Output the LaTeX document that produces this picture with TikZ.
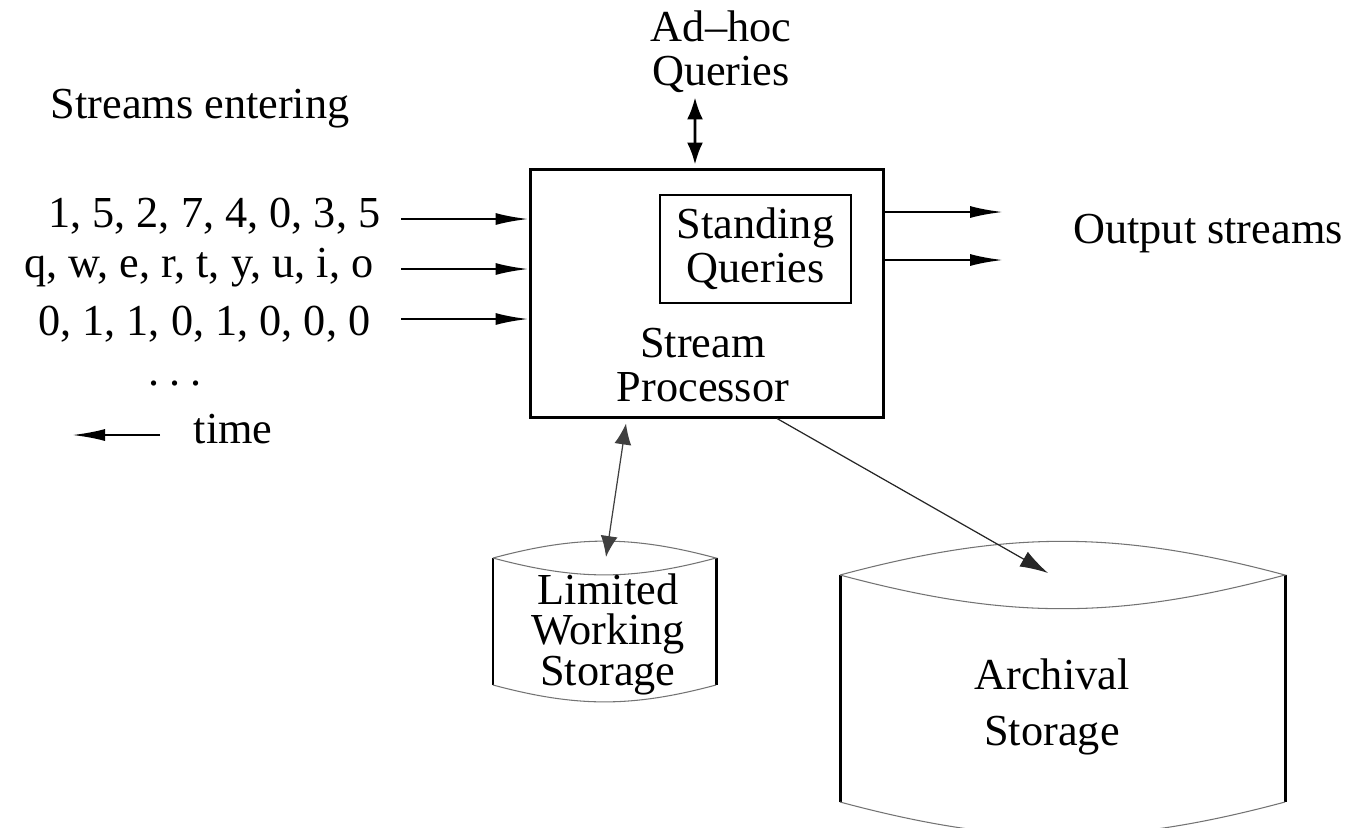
\documentclass[tikz,border=0pt]{standalone}
\usepackage{fontspec}
\setmainfont{Liberation Serif}
\usetikzlibrary{arrows.meta}

\tikzset{
  lbl/.style   = {inner sep=0pt, font=\fontsize{12.6}{12.4}\selectfont, align=center},
  box/.style   = {draw, line width=0.85pt, inner sep=0pt},
  flow/.style  = {line width=0.7pt, -{Latex[length=0.33cm,width=0.12cm]}},
  query/.style = {line width=0.75pt, {Latex[length=0.22cm,width=0.16cm]}-{Latex[length=0.22cm,width=0.16cm]}},
  store/.style = {line width=0.35pt, draw=black!75, {Latex[length=0.21cm,width=0.17cm]}-{Latex[length=0.21cm,width=0.17cm]}},
  dump/.style  = {line width=0.35pt, draw=black!85, -{Latex[length=0.28cm,width=0.17cm]}},
  side/.style  = {line width=0.85pt},
  rim/.style   = {line width=0.3pt, draw=black!55}
}

\begin{document}
\begin{tikzpicture}
  \useasboundingbox (0,0) rectangle (13.48,8.27);
  \clip (0,0) rectangle (13.48,8.27);

  % processor with the standing queries inside
  \node[box, minimum width=3.53cm, minimum height=2.48cm] (proc) at (7.065,5.34) {};
  \node[box, line width=0.75pt, minimum width=1.91cm, minimum height=1.08cm, lbl] (standing) at (7.555,5.78) {Standing\\Queries};
  \node[lbl] (procname) at (7.03,4.62) {Stream\\Processor};

  % ad-hoc queries on top
  \node[lbl] (adhoc) at (7.21,7.75) {Ad--hoc\\Queries};
  \draw[query] ([xshift=-0.26cm,yshift=-0.04cm]adhoc.south) -- ([xshift=-0.115cm,yshift=0.03cm]proc.north);

  % incoming streams
  \node[lbl, anchor=base west] (entering) at (0.50,7.09) {Streams entering};
  \node[lbl, anchor=base east] (s1) at (3.81,6.00) {1, 5, 2, 7, 4, 0, 3, 5};
  \node[lbl, anchor=base east] (s2) at (3.74,5.50) {q, w, e, r, t, y, u, i, o};
  \node[lbl, anchor=base east] (s3) at (3.71,4.92) {0, 1, 1, 0, 1, 0, 0, 0};
  \node[lbl, anchor=base] (more) at (1.75,4.42) {.\kern2.75pt.\kern2.75pt.};

  \coordinate (a1) at (4.01,6.08);
  \coordinate (a2) at (4.01,5.58);
  \coordinate (a3) at (4.01,5.08);
  \foreach \a in {a1,a2,a3}
    \draw[flow] (\a) -- (\a -| proc.west);

  % time runs to the left
  \node[lbl, anchor=base west] (time) at (1.93,3.84) {time};
  \coordinate (t1) at (1.60,3.92);
  \coordinate (t0) at (0.72,3.92);
  \draw[flow] (t1) -- (t0);

  % output streams
  \coordinate (o1) at (10.03,6.15);
  \coordinate (o2) at (10.03,5.67);
  \draw[flow] (o1 -| proc.east) -- (o1);
  \draw[flow] (o2 -| proc.east) -- (o2);
  \node[lbl, anchor=base] (output) at (12.08,5.84) {Output streams};

  % limited working storage
  \draw[side] (4.93,2.69) -- (4.93,1.42);
  \draw[side] (7.16,2.69) -- (7.16,1.42);
  \draw[rim] (4.93,2.69) to[bend left=15] (7.16,2.69) to[bend left=15] (4.93,2.69);
  \draw[rim] (4.93,1.42) to[bend right=15] (7.16,1.42);
  \node[lbl, font=\fontsize{12.6}{11.5}\selectfont] (limited) at (6.08,1.93) {Limited\\Working\\Storage};
  \coordinate (ltop) at (6.06,2.70);
  \draw[store] ([xshift=-0.805cm,yshift=-0.05cm]proc.south) -- (ltop);

  % archival storage
  \draw[side] (8.40,2.52) -- (8.40,0.25);
  \draw[side] (12.85,2.52) -- (12.85,0.25);
  \draw[rim] (8.40,2.52) to[bend left=15] (12.85,2.52) to[bend left=15] (8.40,2.52);
  \draw[rim] (8.40,0.25) to[bend right=15] (12.85,0.25);
  \node[lbl] (archival) at (10.52,1.20) {Archival\\[3.6pt]Storage};
  \coordinate (atop) at (10.48,2.54);
  \draw[dump] ([xshift=0.705cm]proc.south) -- (atop);
\end{tikzpicture}
\end{document}
